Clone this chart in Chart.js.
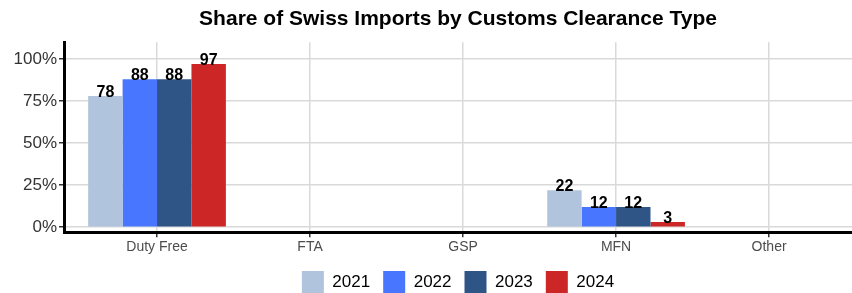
<!DOCTYPE html>
<html>
<head>
<meta charset="utf-8">
<script src="https://cdn.jsdelivr.net/npm/chart.js@4/dist/chart.umd.min.js"></script>
<style>
  html, body { margin: 0; padding: 0; background: #fff; overflow: hidden; }
  #clip { width: 852px; height: 293px; overflow: hidden; }
  #wrap { width: 852px; height: 303px; position: relative; }
</style>
</head>
<body>
<div id="clip"><div id="wrap"><canvas id="chart"></canvas></div></div>
<script>
// Datos del gráfico
const categories = ['Duty Free', 'FTA', 'GSP', 'MFN', 'Other'];
const years = ['2021', '2022', '2023', '2024'];
const share2021 = [78, null, null, 22, null];
const share2022 = [88, null, null, 12, null];
const share2023 = [88, null, null, 12, null];
const share2024 = [97, null, null, 3, null];
const yTicks = [0, 25, 50, 75, 100];

const seriesValues = [share2021, share2022, share2023, share2024];
const colors = ['#B0C4DE', '#4876FF', '#2F5486', '#CD2626'];
const FONT = '"Liberation Sans", Arial, sans-serif';

// Etiquetas encima de las barras
const barLabels = {
    id: 'barLabels',
    afterDatasetsDraw(chart) {
        const ctx = chart.ctx;
        ctx.save();
        ctx.font = 'bold 16px ' + FONT;
        ctx.fillStyle = '#000';
        ctx.textAlign = 'center';
        ctx.textBaseline = 'alphabetic';
        chart.data.datasets.forEach((ds, i) => {
            chart.getDatasetMeta(i).data.forEach((bar, j) => {
                const v = ds.data[j].y;
                if (v === null) return;
                ctx.fillText(String(v), bar.x, bar.y + 1);
            });
        });
        ctx.restore();
    }
};

const datasets = years.map((year, i) => ({
    label: year,
    data: seriesValues[i].map((v, j) => ({ x: j + 1, y: v })),
    backgroundColor: colors[i],
    borderWidth: 0,
    categoryPercentage: 0.9,
    barPercentage: 1.0
}));

new Chart(document.getElementById('chart'), {
    type: 'bar',
    data: { datasets },
    options: {
        responsive: true,
        maintainAspectRatio: false,
        animation: false,
        layout: { padding: 0 },
        plugins: {
            title: {
                display: true,
                text: 'Share of Swiss Imports by Customs Clearance Type',
                fullSize: false,
                color: '#000',
                font: { family: FONT, size: 21, weight: 'bold' },
                padding: { top: 7, bottom: 10 }
            },
            legend: {
                position: 'bottom',
                fullSize: false,
                labels: {
                    boxWidth: 22,
                    boxHeight: 22,
                    padding: 13,
                    color: '#000',
                    font: { family: FONT, size: 17 }
                }
            },
            tooltip: { enabled: false }
        },
        scales: {
            x: {
                type: 'linear',
                min: 0.392,
                max: 5.542,
                offset: false,
                grid: { offset: false, color: '#d9d9d9', lineWidth: 1.5, tickLength: 5, tickColor: '#333' },
                border: { color: '#000', width: 3 },
                afterBuildTicks(scale) {
                    scale.ticks = categories.map((c, i) => ({ value: i + 1 }));
                },
                ticks: {
                    padding: 2,
                    color: '#4d4d4d',
                    font: { family: FONT, size: 14 },
                    callback: (v) => categories[v - 1]
                }
            },
            y: {
                min: -3,
                max: 110,
                grid: { color: '#d9d9d9', lineWidth: 1.5, tickLength: 5, tickColor: '#333' },
                border: { color: '#000', width: 3 },
                afterBuildTicks(scale) {
                    scale.ticks = yTicks.map(v => ({ value: v }));
                },
                afterFit(scale) { scale.width = 64; },
                ticks: {
                    padding: 2,
                    color: '#333',
                    font: { family: FONT, size: 17 },
                    callback: (v) => v + '%'
                }
            }
        }
    },
    plugins: [barLabels]
});
</script>
</body>
</html>
